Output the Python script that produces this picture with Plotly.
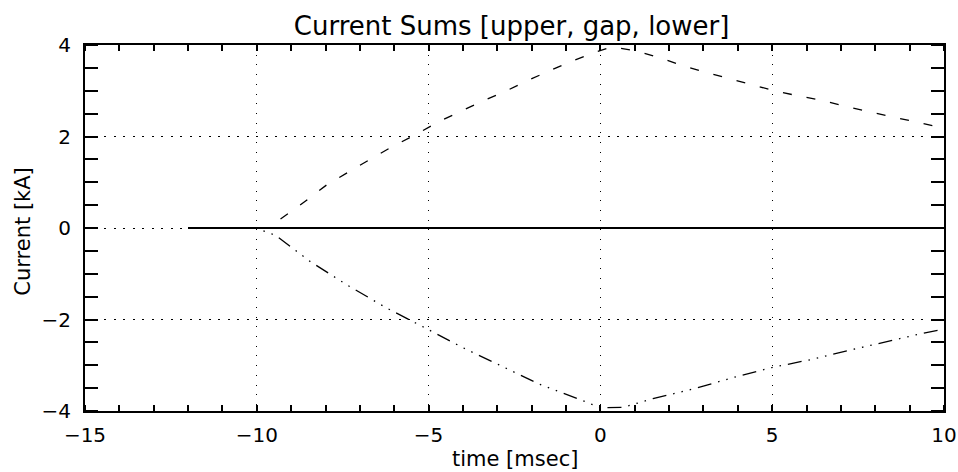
import plotly.graph_objects as go

# ---- data ----
gap_t = [-12.0, 10.0]
gap_i = [0.0, 0.0]

upper_t = [-12.0, -10.0, -9.6, -9.42, -8.74, -7.97, -7.29, -6.66, -6.03, -5.35, -4.72,
           -4.04, -3.41, -2.73, -2.10, -1.47, -0.79, -0.11, 0.3, 0.57, 1.1, 1.82, 2.46,
           3.13, 3.80, 4.44, 5.11, 5.75, 6.39, 7.06, 7.70, 8.34, 9.0, 9.68, 10.0]
upper_i = [0.0, 0.0, 0.0, 0.14, 0.50, 0.94, 1.25, 1.52, 1.79, 2.05, 2.32,
           2.56, 2.78, 3.00, 3.23, 3.44, 3.66, 3.85, 3.95, 3.93, 3.86, 3.70, 3.53,
           3.39, 3.26, 3.12, 2.99, 2.89, 2.80, 2.67, 2.56, 2.45, 2.34, 2.23, 2.18]

lower_t = [-12.0, -10.0, -9.91, -9.62, -9.42, -8.45, -7.34, -6.22, -5.11, -3.99, -2.87,
           -1.76, -0.59, 0.0, 0.66, 1.53, 2.75, 3.86, 4.99, 6.10, 7.2, 8.34, 9.45, 10.0]
lower_i = [0.0, 0.0, -0.04, -0.11, -0.18, -0.73, -1.26, -1.75, -2.18, -2.62, -3.02,
           -3.42, -3.75, -3.93, -3.92, -3.73, -3.51, -3.27, -3.05, -2.88, -2.68, -2.48,
           -2.29, -2.21]

x_ticks = [-15, -10, -5, 0, 5, 10]
y_ticks = [-4, -2, 0, 2, 4]

title_text = "Current Sums [upper, gap, lower]"
x_title = "time [msec]"
y_title = "Current [kA]"

FONT = "DejaVu Sans"

fig = go.Figure()
fig.add_trace(go.Scatter(x=gap_t, y=gap_i, mode="lines",
                         line=dict(color="black", width=1.8)))
fig.add_trace(go.Scatter(x=upper_t, y=upper_i, mode="lines",
                         line=dict(color="black", width=1.3, dash="9px,15px")))
fig.add_trace(go.Scatter(x=lower_t, y=lower_i, mode="lines",
                         line=dict(color="black", width=1.3,
                                   dash="14px,7px,1.5px,7px,1.5px,7px,1.5px,7px")))

fig.update_layout(
    width=958, height=472,
    margin=dict(l=85, r=14, t=45, b=61, autoexpand=False),
    paper_bgcolor="white", plot_bgcolor="white",
    showlegend=False,
    font=dict(family=FONT, size=20, color="black"),
    title=dict(text=title_text, x=0.534, xanchor="center", y=1 - 26 / 472,
               yanchor="middle", yref="container", font=dict(size=26)),
    annotations=[
        dict(text=x_title, xref="paper", yref="paper", x=0.5, y=-(459 - 411) / 366,
             xanchor="center", yanchor="middle", showarrow=False,
             font=dict(size=21)),
        dict(text=y_title, xref="paper", yref="paper", x=(23 - 85) / 859, y=0.49,
             xanchor="center", yanchor="middle", showarrow=False, textangle=-90,
             font=dict(size=21)),
    ],
)

fig.update_xaxes(
    range=[-15, 10], tickvals=x_ticks, ticks="", ticklabelstandoff=5,
    automargin=False,
    showline=True, linecolor="black", linewidth=2, mirror="allticks",
    showgrid=True, gridcolor="black", gridwidth=1, griddash="1px,8.7px",
    zeroline=False,
    minor=dict(dtick=1, ticks="inside", ticklen=6, tickcolor="black", tickwidth=1.5,
               showgrid=False),
)
fig.update_yaxes(
    range=[-4, 4], tickvals=y_ticks, ticks="", ticklabelstandoff=8,
    automargin=False,
    showline=True, linecolor="black", linewidth=2, mirror="allticks",
    showgrid=True, gridcolor="black", gridwidth=1, griddash="2px,7.5px",
    zeroline=False,
    minor=dict(dtick=0.5, ticks="inside", ticklen=13, tickcolor="black", tickwidth=1.5,
               showgrid=False),
)

fig.write_html("out.html", config={"displayModeBar": False},
               post_script="document.body.style.margin='0';document.body.style.overflow='hidden';")
